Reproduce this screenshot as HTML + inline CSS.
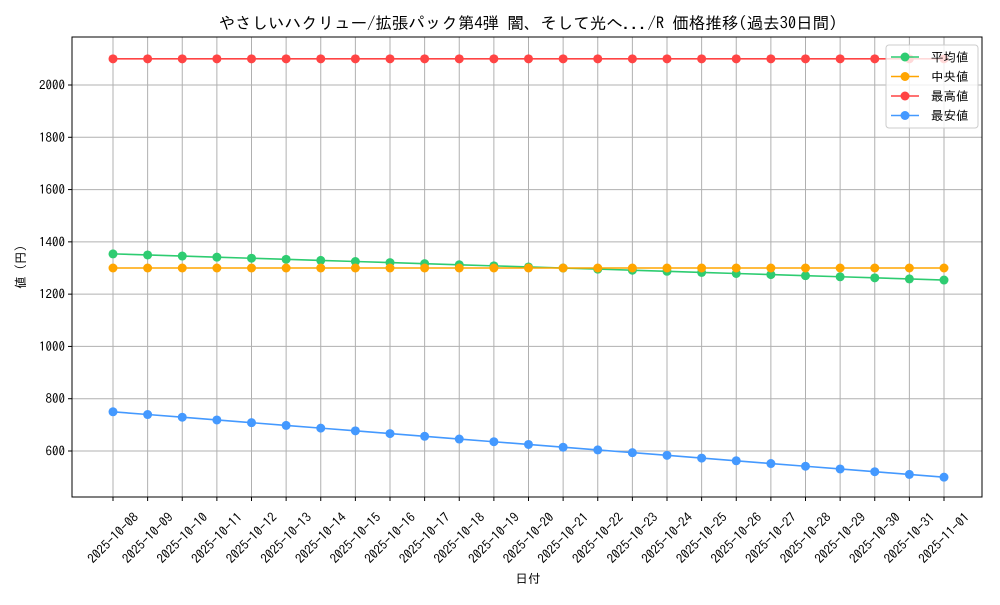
<!DOCTYPE html>
<html><head><meta charset="utf-8"><style>
body{margin:0;background:#fff}
svg text{font-family:"IPAGothic","Noto Sans CJK JP",sans-serif;fill:#000}
</style></head><body>
<svg id="s" width="1000" height="600" xmlns="http://www.w3.org/2000/svg"></svg>
<script>
const s=document.getElementById('s');let h='';
const L=72,R=982,T=37,B=497;
const X=i=>113+i*34.625, Y=v=>451-(v-600)*0.261429;
for(let i=0;i<25;i++)h+=`<line x1="${X(i)}" y1="${T}" x2="${X(i)}" y2="${B}" stroke="#b0b0b0" stroke-width="1"/>`;
for(let v=600;v<=2000;v+=200)h+=`<line x1="${L}" y1="${Y(v)}" x2="${R}" y2="${Y(v)}" stroke="#b0b0b0" stroke-width="1"/>`;
for(let v=600;v<=2000;v+=200){h+=`<line x1="${L-4}" y1="${Y(v)}" x2="${L}" y2="${Y(v)}" stroke="#000"/><text x="${L-7}" y="${Y(v)+4.5}" font-size="13" text-anchor="end">${v}</text>`;}
const d0=new Date(Date.UTC(2025,9,8));
for(let i=0;i<25;i++){const d=new Date(d0.getTime()+i*864e5);const t=d.toISOString().slice(0,10);
h+=`<line x1="${X(i)}" y1="${B}" x2="${X(i)}" y2="${B+4}" stroke="#000"/><text transform="translate(${X(i)},${538}) rotate(-45)" font-size="13" text-anchor="middle" dominant-baseline="central">${t}</text>`;}
const ser=[["#ff4444",i=>2100],["#ffa500",i=>1300],["#2ecc71",i=>1354-i*100/24],["#4499ff",i=>750-i*250/24]];
const order=[ser[2],ser[1],ser[0],ser[3]];
for(const [c,f] of order){let p='';for(let i=0;i<25;i++)p+=`${X(i)},${Y(f(i))} `;
h+=`<polyline points="${p}" fill="none" stroke="${c}" stroke-width="1.6"/>`;
for(let i=0;i<25;i++)h+=`<circle cx="${X(i)}" cy="${Y(f(i))}" r="4.5" fill="${c}"/>`;}
h+=`<rect x="${L}" y="${T}" width="${R-L}" height="${B-T}" fill="none" stroke="#000" stroke-width="1"/>`;
h+=`<rect x="886" y="45" width="92" height="83" rx="3" fill="#fff" fill-opacity="0.8" stroke="#ccc"/>`;
const lg=[["#2ecc71","平均値"],["#ffa500","中央値"],["#ff4444","最高値"],["#4499ff","最安値"]];
lg.forEach(([c,t],k)=>{const y=57+k*19.5;h+=`<line x1="891" y1="${y}" x2="919" y2="${y}" stroke="${c}" stroke-width="1.6"/><circle cx="905" cy="${y}" r="4.5" fill="${c}"/><text x="931" y="${y+4.5}" font-size="12.5">${t}</text>`;});
h+=`<text x="528" y="29" font-size="16.5" text-anchor="middle">やさしいハクリュー/拡張パック第4弾 闇、そして光へ.../R 価格推移(過去30日間)</text>`;
h+=`<text x="528" y="583" font-size="12.5" text-anchor="middle">日付</text>`;
h+=`<text transform="translate(25,267) rotate(-90)" font-size="12.5" text-anchor="middle">値 (円)</text>`;
s.innerHTML=h;
</script>
</body></html>
